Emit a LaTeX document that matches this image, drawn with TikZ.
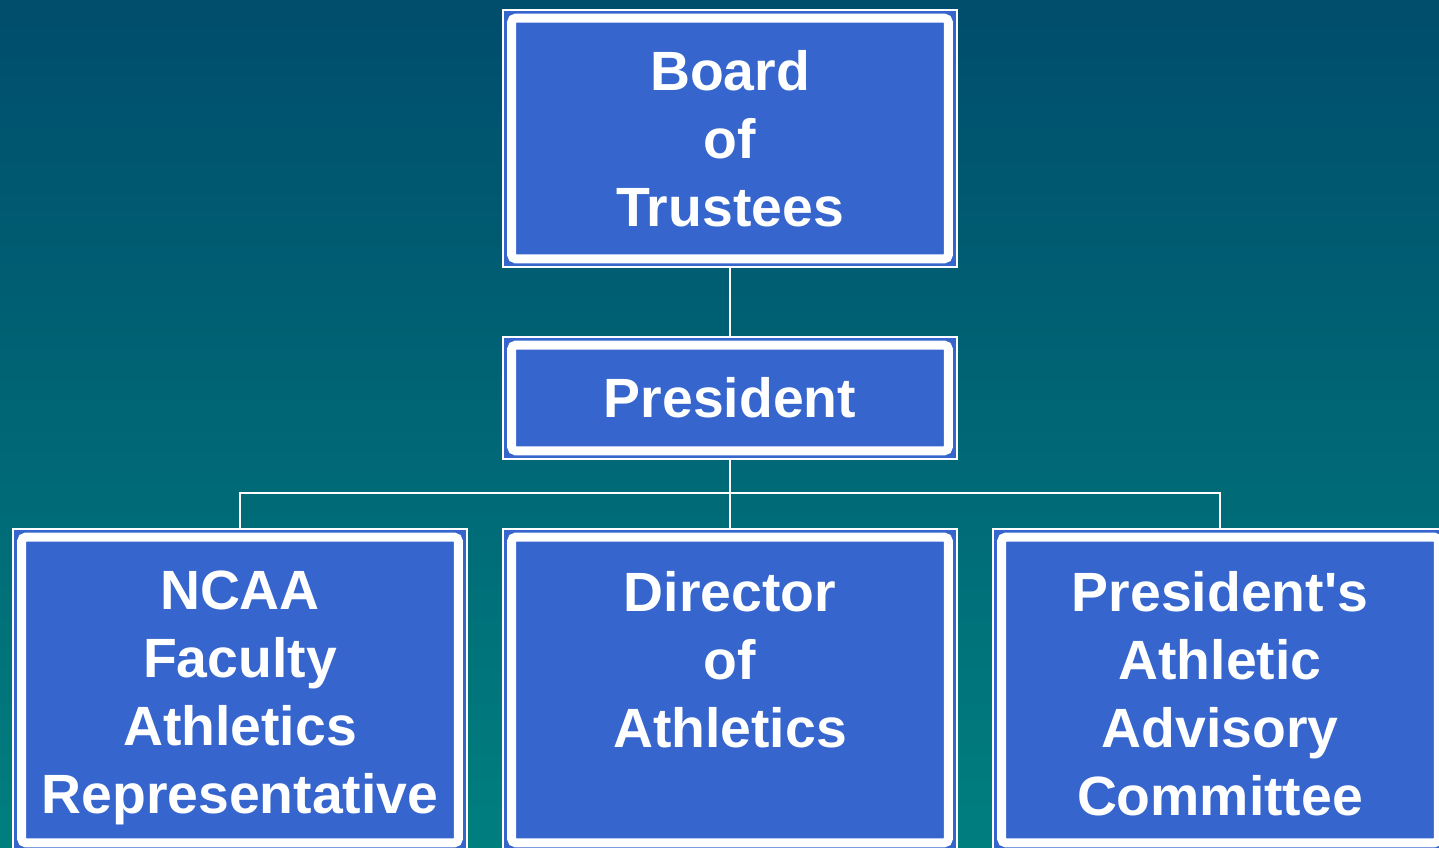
\documentclass[tikz,border=0pt]{standalone}
\usepackage{fontspec}
\setmainfont{Liberation Sans}
\usetikzlibrary{positioning}

\definecolor{bgtop}{RGB}{0,77,108}
\definecolor{bgbottom}{RGB}{0,127,127}
\definecolor{boxblue}{RGB}{53,101,205}

\tikzset{
  orgbox/.style={rectangle, draw=white, line width=1.2pt, fill=boxblue, minimum width=340.5pt, inner sep=0pt},
  band/.style={draw=white, line width=6.75pt, rounded corners=3pt},
  lbl/.style={text=white, font=\bfseries\fontsize{41.5}{51}\selectfont, align=center, inner sep=0pt},
  link/.style={draw=white, line width=1.5pt}
}

\begin{document}
\begin{tikzpicture}[x=0.75pt,y=0.75pt,yscale=-1,xscale=1]
\path[use as bounding box, clip] (0,0) rectangle (1439,848);

%Background
\shade[top color=bgtop, bottom color=bgbottom] (0,0) rectangle (1439,848);

%Boxes
\node[orgbox, minimum height=192.75pt] (board) at (730,138.5) {};
\node[orgbox, minimum height=91.5pt] (president) at (730,398) {};
\node[orgbox, minimum height=241.5pt] (ncaa) at (240,690) {};
\node[orgbox, minimum height=241.5pt] (director) at (730,690) {};
\node[orgbox, minimum height=241.5pt] (paac) at (1220,690) {};

%White inner frames
\foreach \b in {board,president,ncaa,director,paac}
  \draw[band] ([shift={(9.5,9)}]\b.north west) rectangle ([shift={(-9.5,-9)}]\b.south east);

%Connectors
\coordinate (split) at (730,493);
\draw[link] (board.south) -- (president.north);
\draw[link] (president.south) -- (director.north);
\draw[link] (ncaa.north) |- (split) -| (paac.north);

% Text Node
\node[lbl] (boardtxt) at (board.center) {Board\\of\\Trustees};
% Text Node
\node[lbl] (presidenttxt) at (president.center) {President};
% Text Node
\node[lbl, anchor=north] (ncaatxt) at ([yshift=32]ncaa.north) {NCAA\\Faculty\\Athletics\\Representative};
% Text Node
\node[lbl, anchor=north] (directortxt) at ([yshift=32]director.north) {Director\\of\\Athletics};
% Text Node
\node[lbl, anchor=north] (paactxt) at ([yshift=32]paac.north) {President\textquotesingle s\\Athletic\\Advisory\\Committee};

\end{tikzpicture}
\end{document}
